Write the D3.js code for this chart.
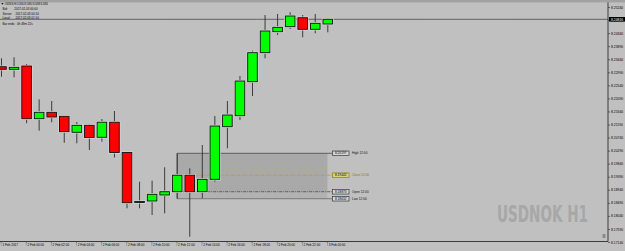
<!DOCTYPE html>
<html>
<head>
<meta charset="utf-8">
<script src="https://cdn.jsdelivr.net/npm/d3@7"></script>
<style>
  html, body { margin: 0; padding: 0; background: #c0c0c0; overflow: hidden; }
  svg { display: block; font-family: "Liberation Sans", Arial, sans-serif; }
</style>
</head>
<body>
<div id="chart"></div>
<script>
// hourly bars, USDNOK H1
const times = ['1 Feb 22:00', '1 Feb 23:00',
  '2 Feb 00:00', '2 Feb 01:00', '2 Feb 02:00', '2 Feb 03:00', '2 Feb 04:00', '2 Feb 05:00',
  '2 Feb 06:00', '2 Feb 07:00', '2 Feb 08:00', '2 Feb 09:00', '2 Feb 10:00', '2 Feb 11:00',
  '2 Feb 12:00', '2 Feb 13:00', '2 Feb 14:00', '2 Feb 15:00', '2 Feb 16:00', '2 Feb 17:00',
  '2 Feb 18:00', '2 Feb 19:00', '2 Feb 20:00', '2 Feb 21:00', '2 Feb 22:00', '2 Feb 23:00',
  '3 Feb 00:00'];
const open  = [8.23182, 8.23092, 8.23206, 8.21390, 8.21610, 8.21472, 8.20921, 8.21162, 8.20749,
  8.21269, 8.20225, 8.18501, 8.18553, 8.18760, 8.18873, 8.19442, 8.18873, 8.19301, 8.21114,
  8.21493, 8.22665, 8.23665, 8.24389, 8.24561, 8.24871, 8.24471, 8.24654];
const high  = [8.23472, 8.23506, 8.23275, 8.22058, 8.22000, 8.21483, 8.21276, 8.21207, 8.21379,
  8.21655, 8.20242, 8.19218, 8.19252, 8.19714, 8.20197, 8.19680, 8.20483, 8.21483, 8.22000,
  8.22862, 8.23734, 8.24964, 8.24999, 8.25057, 8.24964, 8.24999, 8.24850];
const low   = [8.22837, 8.22817, 8.21231, 8.20976, 8.21266, 8.20562, 8.20542, 8.20311, 8.20597,
  8.20052, 8.18301, 8.18301, 8.18070, 8.18129, 8.18632, 8.17322, 8.18646, 8.19218, 8.20369,
  8.21345, 8.22172, 8.23472, 8.24275, 8.24482, 8.24196, 8.24333, 8.24368];
const close = [8.23092, 8.23161, 8.21390, 8.21610, 8.21448, 8.20942, 8.21162, 8.20742, 8.21269,
  8.20225, 8.18494, 8.18536, 8.18784, 8.18873, 8.19442, 8.18873, 8.19301, 8.21138, 8.21517,
  8.22689, 8.23665, 8.24413, 8.24540, 8.24930, 8.24471, 8.24678, 8.24816];

const yTicks = [8.25240, 8.24790, 8.24340, 8.23890, 8.23440, 8.22990, 8.22540, 8.22090, 8.21640,
  8.21190, 8.20740, 8.20290, 8.19840, 8.19390, 8.18940, 8.18490, 8.18040, 8.17590, 8.17140];
const xLabels = ['1 Feb 2017', '2 Feb 00:00', '2 Feb 02:00', '2 Feb 04:00', '2 Feb 06:00',
  '2 Feb 08:00', '2 Feb 10:00', '2 Feb 12:00', '2 Feb 14:00', '2 Feb 16:00', '2 Feb 18:00',
  '2 Feb 20:00', '2 Feb 22:00', '3 Feb 00:00'];

// the 12:00 bar range box
const boxBar = 14;
const boxEnd = 26;

const infoLines = ['Bid:        2017.02.03 00:00', 'Server:    2017.02.03 00:10',
  'Local:      2017.02.03 01:10', 'Bar ends:  0h 49m 22s'];

const w = 625, h = 251;
const plotR = 608, plotB = 241.5;
const fmt = d3.format('.5f');

const svg = d3.select('#chart').append('svg')
  .attr('width', w)
  .attr('height', h);

svg.append('rect').attr('width', w).attr('height', h).attr('fill', '#c0c0c0');

const x = d3.scaleLinear().domain([0, times.length - 1]).range([1.5, 327.8]);
const y = d3.scaleLinear().domain([8.17140, 8.25240]).range([242, 7]);

const n = times.length - 1;
const bodyW = 9.6;

// range box for the 12:00 bar
const bx0 = x(boxBar), bx1 = x(boxEnd) - 0.5;
svg.append('rect')
  .attr('x', bx0).attr('y', y(high[boxBar]))
  .attr('width', bx1 - bx0).attr('height', y(low[boxBar]) - y(high[boxBar]))
  .attr('fill', '#b2b2b2');
svg.append('rect')
  .attr('x', bx0).attr('y', y(high[boxBar]))
  .attr('width', bx1 - bx0).attr('height', y(open[boxBar]) - y(high[boxBar]))
  .attr('fill', '#a9a9a9');
svg.append('line')
  .attr('x1', bx0).attr('x2', bx0)
  .attr('y1', y(high[boxBar])).attr('y2', y(low[boxBar]))
  .attr('stroke', '#505050').attr('stroke-width', 0.8);

const levels = [
  {name: 'High',  v: high[boxBar],  col: '#4a4a4a', dash: null},
  {name: 'Close', v: close[boxBar], col: '#b0a800', dash: '3,1,1,1'},
  {name: 'Open',  v: open[boxBar],  col: '#4a4a4a', dash: '3,1,1,1'},
  {name: 'Low',   v: low[boxBar],   col: '#6a6a6a', dash: null}
];
levels.forEach(l => {
  svg.append('line')
    .attr('x1', bx0).attr('x2', 332.5)
    .attr('y1', y(l.v)).attr('y2', y(l.v))
    .attr('stroke', l.col).attr('stroke-width', 0.8)
    .attr('stroke-dasharray', l.dash);
  svg.append('rect')
    .attr('x', 332.5).attr('y', y(l.v) - 2.3)
    .attr('width', 16.5).attr('height', 4.6)
    .attr('fill', l.name == 'Close' ? '#d6d27a' : '#d4d4d4')
    .attr('stroke', l.name == 'Close' ? '#8a8400' : '#3a3a3a')
    .attr('stroke-width', 0.7);
  svg.append('text')
    .attr('x', 340.7).attr('y', y(l.v) + 1.1)
    .attr('text-anchor', 'middle')
    .attr('font-size', 3.2)
    .attr('fill', '#000')
    .text(fmt(l.v));
  svg.append('text')
    .attr('x', 352).attr('y', y(l.v) + 1.1)
    .attr('font-size', 3.2)
    .attr('fill', l.name == 'Close' ? '#857f00' : '#111')
    .text(l.name + ' ' + times[boxBar].slice(6));
});

// current bid line
svg.append('line')
  .attr('x1', 0).attr('x2', plotR)
  .attr('y1', y(close[n])).attr('y2', y(close[n]))
  .attr('stroke', '#4a4a4a').attr('stroke-width', 0.8);

// candles
const idx = d3.range(times.length);
svg.append('g').selectAll('line')
  .data(idx)
  .enter()
  .append('line')
  .attr('x1', i => x(i)).attr('x2', i => x(i))
  .attr('y1', i => y(high[i])).attr('y2', i => y(low[i]))
  .attr('stroke', '#2e2e2e').attr('stroke-width', 0.9);

const bodies = svg.append('g');
bodies.selectAll('rect.halo')
  .data(idx)
  .enter()
  .append('rect')
  .attr('class', 'halo')
  .attr('x', i => x(i) - bodyW / 2)
  .attr('y', i => y(Math.max(open[i], close[i])))
  .attr('width', bodyW)
  .attr('height', i => Math.max(1, Math.abs(y(open[i]) - y(close[i]))))
  .attr('fill', 'none')
  .attr('stroke', '#dadada')
  .attr('stroke-width', 2.2);
bodies.selectAll('rect.body')
  .data(idx)
  .enter()
  .append('rect')
  .attr('class', 'body')
  .attr('x', i => x(i) - bodyW / 2)
  .attr('y', i => y(Math.max(open[i], close[i])))
  .attr('width', bodyW)
  .attr('height', i => Math.max(1, Math.abs(y(open[i]) - y(close[i]))))
  .attr('fill', i => close[i] >= open[i] ? '#00ff00' : '#ff0000')
  .attr('stroke', '#111')
  .attr('stroke-width', 0.9);

// watermark
svg.append('text')
  .attr('x', 497).attr('y', 222)
  .attr('font-family', '"DejaVu Sans Condensed", "DejaVu Sans", sans-serif')
  .attr('font-weight', 'bold')
  .attr('font-size', 23)
  .attr('textLength', 91)
  .attr('lengthAdjust', 'spacingAndGlyphs')
  .attr('fill', '#a7a7a7')
  .text('USDNOK H1');

svg.append('rect')
  .attr('x', 602.5).attr('y', 234).attr('width', 3).attr('height', 4)
  .attr('fill', '#8a8a8a');

// top strip
svg.append('rect').attr('x', 0).attr('y', 0).attr('width', w).attr('height', 2.4)
  .attr('fill', '#a2a2a2');

// axes frame
svg.append('line')
  .attr('x1', plotR).attr('x2', plotR).attr('y1', 2.4).attr('y2', plotB)
  .attr('stroke', '#3a3a3a').attr('stroke-width', 1);
svg.append('line')
  .attr('x1', 0).attr('x2', plotR).attr('y1', plotB).attr('y2', plotB)
  .attr('stroke', '#3a3a3a').attr('stroke-width', 1);

const yAxis = d3.axisRight(y)
  .tickValues(yTicks)
  .tickFormat(fmt)
  .tickSize(2)
  .tickPadding(1);
const gy = svg.append('g')
  .attr('transform', 'translate(' + plotR + ',0)')
  .call(yAxis);
gy.select('.domain').remove();
gy.selectAll('line').attr('stroke', '#2a2a2a').attr('stroke-width', 0.6);
gy.selectAll('text')
  .attr('font-size', 3.4)
  .attr('font-family', '"Liberation Sans", Arial, sans-serif')
  .attr('fill', '#000');

// bid label
svg.append('rect')
  .attr('x', 609).attr('y', y(close[n]) - 2.3)
  .attr('width', 16).attr('height', 4.6)
  .attr('fill', '#000');
svg.append('text')
  .attr('x', 611).attr('y', y(close[n]) + 1.2)
  .attr('font-size', 3.4)
  .attr('fill', '#fff')
  .text(fmt(close[n]));

const xAxis = d3.axisBottom(x)
  .tickValues(xLabels.map((d, k) => k * 2))
  .tickFormat((d, k) => xLabels[k])
  .tickSize(3.5)
  .tickPadding(0);
const gx = svg.append('g')
  .attr('transform', 'translate(-0.8,' + (plotB + 0.5) + ')')
  .call(xAxis);
gx.select('.domain').remove();
gx.selectAll('line').attr('stroke', '#333').attr('stroke-width', 0.5)
  .attr('stroke-dasharray', '1,0.6');
gx.selectAll('text')
  .attr('text-anchor', 'start')
  .attr('x', 1.2)
  .attr('y', 2.2)
  .attr('font-size', 3.1)
  .attr('font-family', '"Liberation Sans", Arial, sans-serif')
  .attr('fill', '#000');

// info text top-left
svg.append('path')
  .attr('d', 'M1.2,3 L3.6,3 L2.4,4.8 Z')
  .attr('fill', '#111');
svg.append('text')
  .attr('x', 5).attr('y', 5.2)
  .attr('font-size', 3.1)
  .attr('textLength', 43)
  .attr('lengthAdjust', 'spacingAndGlyphs')
  .attr('fill', '#000')
  .text('USDNOK,H1 ' + [open[n], high[n], low[n], close[n]].map(fmt).join(' '));
const infoY = [10.4, 14.8, 19.0, 25.2];
infoLines.forEach((t, k) => {
  svg.append('text')
    .attr('x', 2.5).attr('y', infoY[k])
    .attr('font-size', 3.0)
    .attr('fill', '#000')
    .attr('xml:space', 'preserve')
    .style('white-space', 'pre')
    .text(t);
});
</script>
</body>
</html>
